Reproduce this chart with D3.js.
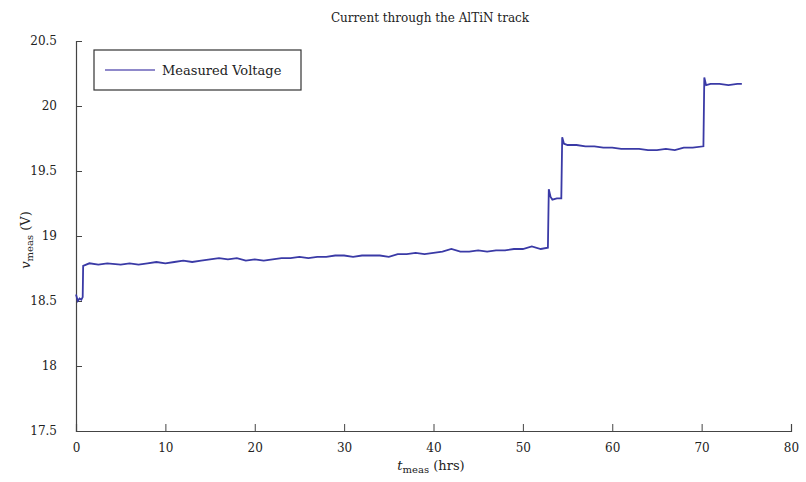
<!DOCTYPE html>
<html>
<head>
<meta charset="utf-8">
<script src="https://cdn.jsdelivr.net/npm/d3@7"></script>
<style>
  body { margin: 0; background: #fff; }
  .axis path, .axis line { stroke: #444; }
  .axis text { font-family: "DejaVu Serif", serif; font-size: 12px; fill: #222; }
</style>
</head>
<body>
<div class="chart"></div>
<script>
var svgWidth = 806;
var svgHeight = 482;

var margin = { top: 41, right: 15, bottom: 51, left: 76 };
var width = svgWidth - margin.left - margin.right;
var height = svgHeight - margin.top - margin.bottom;

var timeHrs = [0, 0.2, 0.4, 0.6, 0.75, 0.8, 1.5, 2.5, 3.5, 5, 6, 7, 8, 9, 10, 11, 12, 13, 14, 15,
  16, 17, 18, 19, 20, 21, 22, 23, 24, 25, 26, 27, 28, 29, 30, 31, 32, 33, 34, 35, 36, 37, 38, 39,
  40, 41, 42, 43, 44, 45, 46, 47, 48, 49, 50, 51, 52, 52.8, 52.9, 53.1, 53.3, 53.8, 54.3, 54.4,
  54.6, 55, 56, 57, 58, 59, 60, 61, 62, 63, 64, 65, 66, 67, 68, 69, 70.2, 70.3, 70.5, 71, 72, 73,
  74, 74.5];
var voltage = [18.55, 18.50, 18.52, 18.51, 18.53, 18.77, 18.79, 18.78, 18.79, 18.78, 18.79, 18.78,
  18.79, 18.80, 18.79, 18.80, 18.81, 18.80, 18.81, 18.82, 18.83, 18.82, 18.83, 18.81, 18.82, 18.81,
  18.82, 18.83, 18.83, 18.84, 18.83, 18.84, 18.84, 18.85, 18.85, 18.84, 18.85, 18.85, 18.85, 18.84,
  18.86, 18.86, 18.87, 18.86, 18.87, 18.88, 18.90, 18.88, 18.88, 18.89, 18.88, 18.89, 18.89, 18.90,
  18.90, 18.92, 18.90, 18.91, 19.36, 19.30, 19.28, 19.29, 19.29, 19.76, 19.71, 19.70, 19.70, 19.69,
  19.69, 19.68, 19.68, 19.67, 19.67, 19.67, 19.66, 19.66, 19.67, 19.66, 19.68, 19.68, 19.69, 20.22,
  20.16, 20.17, 20.17, 20.16, 20.17, 20.17];

var xTicks = [0, 10, 20, 30, 40, 50, 60, 70, 80];
var yTicks = [17.5, 18, 18.5, 19, 19.5, 20, 20.5];

var data = timeHrs.map(function(t, i) { return { t: t, v: voltage[i] }; });

var svg = d3.select(".chart")
  .append("svg")
  .attr("width", svgWidth)
  .attr("height", svgHeight);

var chartGroup = svg.append("g")
  .attr("transform", `translate(${margin.left}, ${margin.top})`);

var xScale = d3.scaleLinear().domain([0, 80]).range([0, width]);
var yScale = d3.scaleLinear().domain([17.5, 20.5]).range([height, 0]);

// inward ticks, matlab style
var bottomAxis = d3.axisBottom(xScale).tickValues(xTicks).tickSize(-7).tickPadding(12).tickFormat(d3.format("d"));
var leftAxis = d3.axisLeft(yScale).tickValues(yTicks).tickSize(-6).tickPadding(19).tickFormat(d => d);

chartGroup.append("g")
  .attr("class", "axis")
  .attr("transform", `translate(0, ${height})`)
  .call(bottomAxis);

chartGroup.append("g")
  .attr("class", "axis")
  .call(leftAxis);

chartGroup.selectAll(".axis .domain").attr("stroke-width", 1.2);

var line = d3.line()
  .x(d => xScale(d.t))
  .y(d => yScale(d.v));

chartGroup.append("path")
  .datum(data)
  .attr("fill", "none")
  .attr("stroke", "#3a3aa6")
  .attr("stroke-width", 1.8)
  .attr("d", line);

// legend
var legend = chartGroup.append("g").attr("transform", "translate(18, 9)");
legend.append("rect")
  .attr("width", 207).attr("height", 40)
  .attr("fill", "#fff").attr("stroke", "#333").attr("stroke-width", 1.2);
legend.append("line")
  .attr("x1", 11).attr("x2", 61).attr("y1", 20).attr("y2", 20)
  .attr("stroke", "#6a62b8").attr("stroke-width", 1.5);
legend.append("text")
  .attr("x", 68).attr("y", 25)
  .attr("font-family", "DejaVu Serif, serif").attr("font-size", "13px").attr("fill", "#222")
  .text("Measured Voltage");

// title
svg.append("text")
  .attr("x", 430).attr("y", 22)
  .attr("text-anchor", "middle")
  .attr("font-family", "DejaVu Serif, serif").attr("font-size", "12px").attr("fill", "#222")
  .text("Current through the AlTiN track");

// axis labels
var xLab = svg.append("text")
  .attr("x", 431).attr("y", 470)
  .attr("text-anchor", "middle")
  .attr("font-family", "DejaVu Serif, serif").attr("font-size", "13px").attr("fill", "#222");
xLab.append("tspan").attr("font-style", "italic").text("t");
xLab.append("tspan").attr("font-size", "10px").attr("dy", 3).text("meas");
xLab.append("tspan").attr("dy", -3).text(" (hrs)");

var yLab = svg.append("text")
  .attr("transform", "translate(30, 240) rotate(-90)")
  .attr("text-anchor", "middle")
  .attr("font-family", "DejaVu Serif, serif").attr("font-size", "13px").attr("fill", "#222");
yLab.append("tspan").attr("font-style", "italic").text("v");
yLab.append("tspan").attr("font-size", "10px").attr("dy", 3).text("meas");
yLab.append("tspan").attr("dy", -3).text(" (V)");
</script>
</body>
</html>
